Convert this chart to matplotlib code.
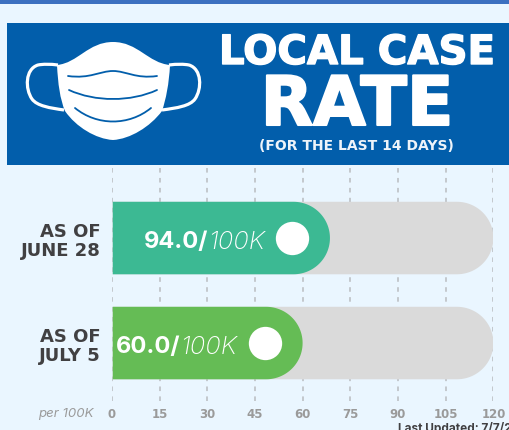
import numpy as np
import matplotlib
matplotlib.use("Agg")
import matplotlib.pyplot as plt
import matplotlib.patheffects as pe
from matplotlib.path import Path
from matplotlib.patches import PathPatch, Rectangle

plt.rcParams['font.family'] = ['Inter', 'DejaVu Sans']

# data
labels = ["AS OF\nJUNE 28", "AS OF\nJULY 5"]
bar_lengths = [68.6, 60.0]
rate_text = ["94.0/", "60.0/"]
track_max = 120
ticks = [0, 15, 30, 45, 60, 75, 90, 105, 120]
colors = ["#3cb993", "#65bc55"]

W, H = 509, 431
BG = "#eaf6ff"
BLUE = "#025eab"
WIDE = "DejaVu Sans"

fig = plt.figure(figsize=(W / 100, H / 100), dpi=100, facecolor=BG)

# chart axes, positioned in pixels
top_px, bot_px = 167, 402
ax = fig.add_axes([111.8 / W, 1 - bot_px / H, (493.4 - 111.8) / W, (bot_px - top_px) / H])
ax.set_facecolor("none")
ax.set_xlim(0, 120)
ax.set_ylim(1.552, -0.686)
for s in ax.spines.values():
    s.set_visible(False)
ax.set_axisbelow(True)
ax.grid(axis="x", color="#b9bcc0", linestyle=(0, (3, 3.5)), linewidth=1.1)
ax.grid(axis="y", visible=False)
ax.set_xticks(ticks)
ax.set_xticklabels([str(t) for t in ticks], fontsize=8.5, fontweight="bold", color="#9a9a9a", family=WIDE)
ax.set_yticks([0, 1])
ax.set_yticklabels(labels, fontsize=13, fontweight="bold", color="#414042", linespacing=1.1, family=WIDE)
ax.tick_params(axis="x", length=0, pad=4.5)
ax.tick_params(axis="y", length=0, pad=8)

px_per_unit = (493.4 - 111.8) / 120
px_per_y = 105.0
bar_h = 72.5 / px_per_y
rx = 36.5 / px_per_unit


def rounded_bar(length, yc, color, z):
    # flat on the left, half circle on the right
    t = np.linspace(-np.pi / 2, np.pi / 2, 60)
    xs = np.concatenate([[0.3], length - rx + rx * np.cos(t), [0.3]])
    ys = np.concatenate([[yc - bar_h / 2], yc + bar_h / 2 * np.sin(t), [yc + bar_h / 2]])
    ax.fill(xs, ys, color=color, lw=0, zorder=z)


joints = [30.3, 21.5]
for i in range(len(labels)):
    rounded_bar(track_max, i, "#dadada", 3)
    rounded_bar(bar_lengths[i], i, colors[i], 4)
    ax.plot(bar_lengths[i] - 37.5 / px_per_unit, i, "o", color="white", ms=24, mew=0, zorder=5)
    ax.text(joints[i], i + 0.03, rate_text[i], ha="right", va="center", color="white",
            fontsize=17, fontweight="bold", zorder=6)
    ax.text(joints[i], i + 0.03, "100K", ha="left", va="center", color="white",
            fontsize=18.5, fontstyle="italic", fontweight="light", zorder=6)

# header and other page furniture, in pixel coordinates
page = fig.add_axes([0, 0, 1, 1], zorder=5)
page.set_xlim(0, W)
page.set_ylim(H, 0)
page.axis("off")
page.add_patch(Rectangle((0, 0), W, 5, color="#3c70c0", lw=0))
page.add_patch(Rectangle((7.5, 24), W - 7.5, 142, color=BLUE, lw=0))

body = Path(
    [(57, 66), (78, 64), (88, 43), (113, 43), (138, 43), (148, 64), (170, 66),
     (169, 85), (166, 100), (162, 112), (150, 128), (130, 140), (113, 141),
     (96, 140), (76, 128), (65, 112), (60, 100), (58, 85), (57, 66), (57, 66)],
    [Path.MOVETO] + [Path.CURVE4] * 18 + [Path.CLOSEPOLY])
page.add_patch(PathPatch(body, fc="white", ec="none"))

left_ear = Path([(58, 66), (50, 65), (43, 65), (38, 66), (25, 70), (25, 90), (32, 100),
                 (37, 107), (50, 109), (64, 111)],
                [Path.MOVETO] + [Path.CURVE4] * 9)
right_ear = Path([(169, 66), (177, 65), (184, 65), (189, 66), (202, 70), (202, 90), (195, 100),
                  (190, 107), (177, 109), (162, 111)],
                 [Path.MOVETO] + [Path.CURVE4] * 9)
for ear in (left_ear, right_ear):
    page.add_patch(PathPatch(ear, fc="none", ec="white", lw=2.3))

folds = [
    Path([(68, 77), (90, 80), (100, 72), (113, 72), (126, 72), (136, 80), (157, 77)],
         [Path.MOVETO] + [Path.CURVE4] * 6),
    Path([(69, 91), (95, 103), (131, 103), (157, 91)], [Path.MOVETO] + [Path.CURVE4] * 3),
    Path([(75, 109), (97, 127), (129, 127), (151, 109)], [Path.MOVETO] + [Path.CURVE4] * 3),
]
for f in folds:
    page.add_patch(PathPatch(f, fc="none", ec=BLUE, lw=1.3, capstyle="round"))

# the original face is heavier than DejaVu Bold, so thicken the big titles a little
heavy = [pe.withStroke(linewidth=1.0, foreground="white")]
page.text(357, 54, "LOCAL CASE", ha="center", va="center", color="white", fontsize=29,
          fontweight="bold", family=WIDE, path_effects=heavy)
page.text(357, 107, "RATE", ha="center", va="center", color="white", fontsize=49,
          fontweight="bold", family=WIDE, path_effects=[pe.withStroke(linewidth=1.5, foreground="white")])
page.text(356.5, 146.5, "(FOR THE LAST 14 DAYS)", ha="center", va="center", color="#eef4fa",
          fontsize=10, fontweight="bold", family=WIDE)
page.text(94, 414, "per 100K", ha="right", va="center", color="#9a9a9a", fontsize=9.5, fontstyle="italic")
page.text(398, 428.5, "Last Updated: 7/7/21", ha="left", va="center", color="#414042",
          fontsize=8.5, fontweight="bold", clip_on=True)

fig.savefig("out.png", dpi=100, facecolor=BG)
